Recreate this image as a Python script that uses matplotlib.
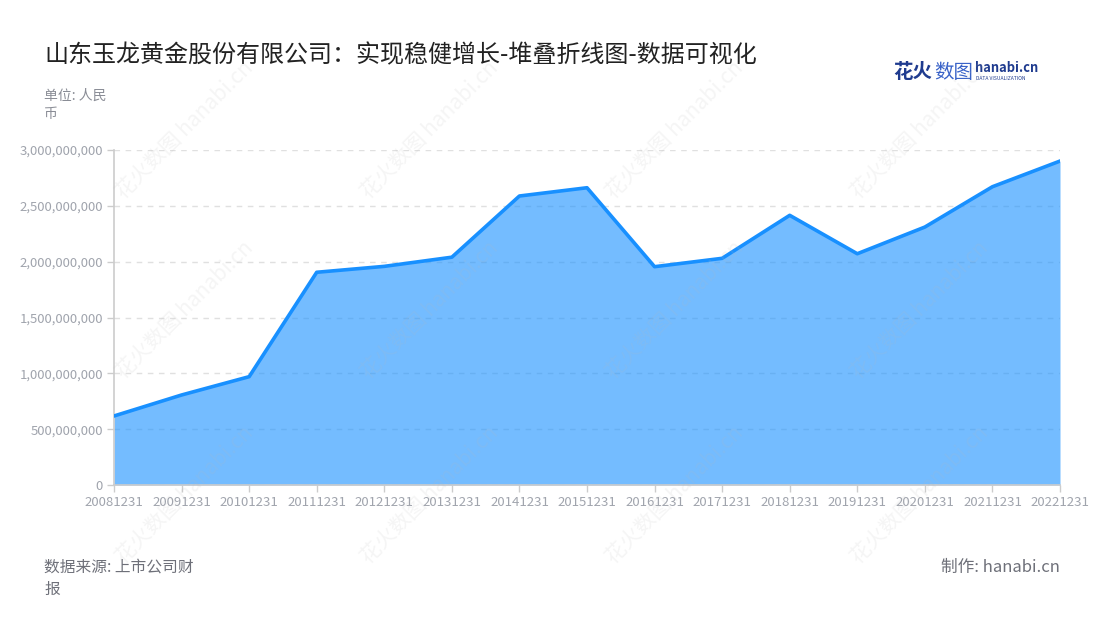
import matplotlib
matplotlib.use("Agg")
import matplotlib.pyplot as plt
from matplotlib.ticker import FuncFormatter

plt.rcParams['font.family'] = ['Noto Sans CJK SC', 'DejaVu Sans']

dates = ["20081231", "20091231", "20101231", "20111231", "20121231", "20131231",
         "20141231", "20151231", "20161231", "20171231", "20181231", "20191231",
         "20201231", "20211231", "20221231"]
values = [618e6, 806e6, 970e6, 1905e6, 1958e6, 2040e6, 2588e6, 2662e6,
          1955e6, 2030e6, 2415e6, 2071e6, 2310e6, 2671e6, 2901e6]
yticks = [0, 500e6, 1000e6, 1500e6, 2000e6, 2500e6, 3000e6]

title = "山东玉龙黄金股份有限公司：实现稳健增长-堆叠折线图-数据可视化"
unit_text = "单位: 人民\n币"
source_text = "数据来源: 上市公司财\n报"
maker_text = "制作: hanabi.cn"

W, H = 1100, 620
fig = plt.figure(figsize=(W / 100, H / 100), dpi=100)
ax = fig.add_axes([114 / W, (H - 485) / H, (1060 - 114) / W, (485 - 150) / H])

x = list(range(len(dates)))
ax.fill_between(x, values, 0, color='#1890ff', alpha=0.6, linewidth=0, zorder=2)
ax.plot(x, values, color='#1890ff', linewidth=2.6, zorder=3, solid_joinstyle='round')

ax.set_xlim(0, len(dates) - 1)
ax.set_ylim(0, 3000e6)
ax.set_yticks(yticks)
ax.yaxis.set_major_formatter(FuncFormatter(lambda v, p: f"{int(v):,}"))
ax.set_xticks(x)
ax.set_xticklabels(dates)

ax.grid(axis='y', color='#e0e0e0', linestyle=(0, (4, 4)), linewidth=1, zorder=1)
ax.set_axisbelow(True)
for s in ['top', 'right']:
    ax.spines[s].set_visible(False)
ax.spines['left'].set_color('#cccccc')
ax.spines['bottom'].set_color('#cccccc')
ax.spines['left'].set_linewidth(1.2)
ax.spines['bottom'].set_linewidth(1.2)
ax.tick_params(axis='both', colors='#cccccc', labelcolor='#a0a4ad', labelsize=9.5, length=5, width=1)
ax.tick_params(axis='x', pad=3)
ax.tick_params(axis='y', pad=3)

# Title and annotations
fig.text(44 / W, 1 - 55 / H, title, fontsize=17.3, color='#222222', va='center', ha='left')
fig.text(44 / W, 1 - 105 / H, unit_text, fontsize=10, color='#8a8d96', va='center', ha='left',
         linespacing=1.35)
fig.text(44 / W, 1 - 578 / H, source_text, fontsize=11.3, color='#6e7079', va='center', ha='left',
         linespacing=1.4)
fig.text(1060 / W, 1 - 567 / H, maker_text, fontsize=12, color='#6e7079', va='center', ha='right')

# Logo
fig.text(893 / W, 1 - 72 / H, "花火", fontsize=14, color='#1f3b8f', fontweight='bold',
         va='center', ha='left')
fig.text(934 / W, 1 - 72 / H, "数图", fontsize=14, color='#3a63c8', va='center', ha='left')
fig.text(975 / W, 1 - 68 / H, "hanabi.cn", fontsize=9.3, color='#1f3b8f', fontweight='bold',
         va='center', ha='left')
fig.text(976 / W, 1 - 79 / H, "DATA VISUALIZATION", fontsize=3.6, color='#1f3b8f',
         va='center', ha='left')

# Watermarks
for cx in [185, 430, 675, 920]:
    for cy in [130, 310, 495]:
        fig.text(cx / W, 1 - cy / H, "花火数图 hanabi.cn", fontsize=15, color='#b8b8b8',
                 alpha=0.14, rotation=45, ha='center', va='center', zorder=10)

fig.savefig("out.png", dpi=100)
